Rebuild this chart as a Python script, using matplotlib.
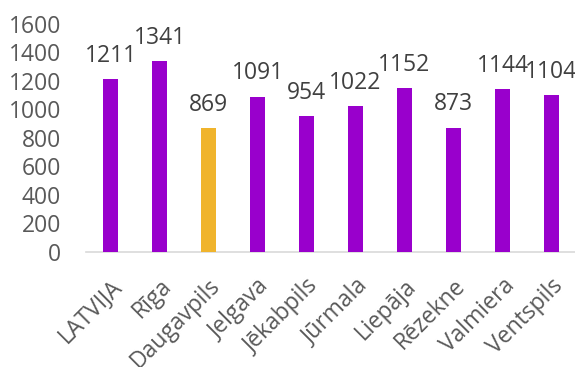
import matplotlib
matplotlib.use("Agg")
import matplotlib.pyplot as plt

plt.rcParams["font.family"] = ["Open Sans", "DejaVu Sans"]

cities = ["LATVIJA", "Rīga", "Daugavpils", "Jelgava", "Jēkabpils",
          "Jūrmala", "Liepāja", "Rēzekne", "Valmiera", "Ventspils"]
values = [1211, 1341, 869, 1091, 954, 1022, 1152, 873, 1144, 1104]
highlight = "Daugavpils"

purple = "#9900CC"
gold = "#F0B42C"
text_col = "#595959"

colors = [gold if c == highlight else purple for c in cities]

fig = plt.figure(figsize=(5.75, 3.67), dpi=100)
ax = fig.add_axes([0.1496, 0.3134, 0.852, 0.6212])

x = range(len(cities))
bars = ax.bar(x, values, width=0.31, color=colors, zorder=3)

for xi, v in zip(x, values):
    ax.annotate(str(v), (xi, v), xytext=(0, 8), textcoords="offset points",
                ha="center", va="bottom", fontsize=16.5, color="#404040")

ax.set_xlim(-0.5, len(cities) - 0.5)
ax.set_ylim(0, 1600)
ax.set_yticks(range(0, 1601, 200))
ax.set_xticks(list(x))
ax.set_xticklabels(cities, rotation=45, ha="right", va="top",
                   rotation_mode="anchor")

for s in ["top", "right", "left"]:
    ax.spines[s].set_visible(False)
ax.spines["bottom"].set_color("#D9D9D9")
ax.spines["bottom"].set_linewidth(1.2)
ax.tick_params(axis="both", length=0, labelsize=16.5, colors=text_col)
ax.tick_params(axis="y", pad=18)
ax.tick_params(axis="x", pad=16)

fig.savefig("out.png", dpi=100)
